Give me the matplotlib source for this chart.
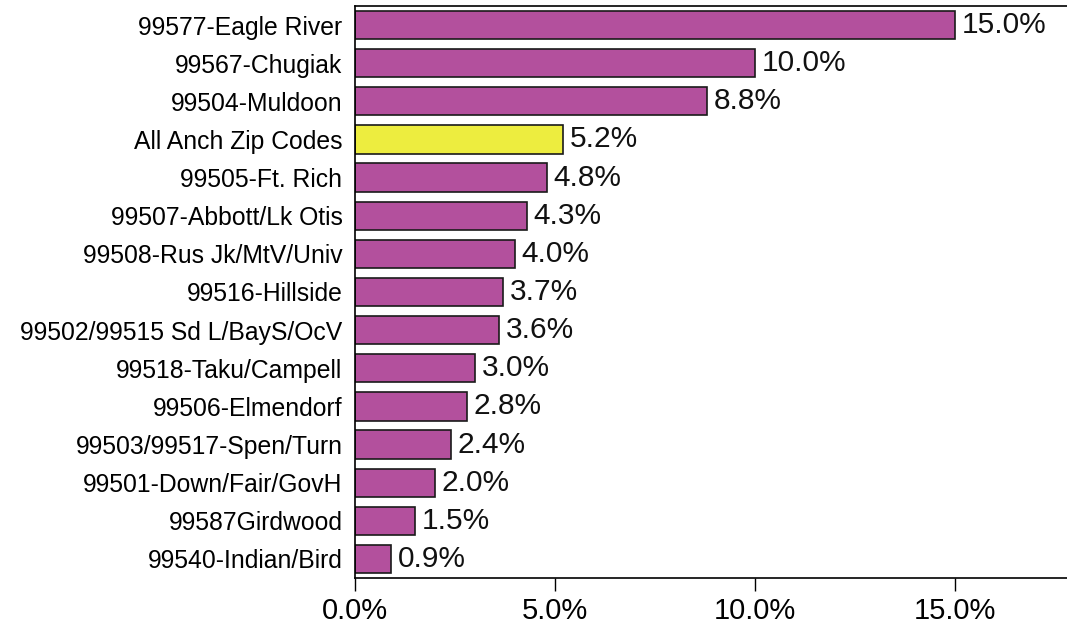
import matplotlib
matplotlib.use("Agg")
import matplotlib.pyplot as plt
from matplotlib.ticker import FuncFormatter

categories = [
    "99577-Eagle River", "99567-Chugiak", "99504-Muldoon", "All Anch Zip Codes",
    "99505-Ft. Rich", "99507-Abbott/Lk Otis", "99508-Rus Jk/MtV/Univ",
    "99516-Hillside", "99502/99515 Sd L/BayS/OcV", "99518-Taku/Campell",
    "99506-Elmendorf", "99503/99517-Spen/Turn", "99501-Down/Fair/GovH",
    "99587Girdwood", "99540-Indian/Bird",
]
values = [15.0, 10.0, 8.8, 5.2, 4.8, 4.3, 4.0, 3.7, 3.6, 3.0, 2.8, 2.4, 2.0, 1.5, 0.9]
highlight = "All Anch Zip Codes"
xticks = [0, 5, 10, 15]

plt.rcParams['font.family'] = ['Liberation Sans', 'DejaVu Sans']

W, H = 1067, 624
fig = plt.figure(figsize=(W / 100, H / 100), dpi=100)
left, right, top, bottom = 355, 1067, 6, 578
ax = fig.add_axes([left / W, 1 - bottom / H, (right - left) / W, (bottom - top) / H])

colors = ["#eded3f" if c == highlight else "#b3509d" for c in categories]
ypos = list(range(len(categories)))
ax.barh(ypos, values, height=0.74, color=colors, edgecolor="#1a1a1a", linewidth=1.2)
for y, v in zip(ypos, values):
    ax.text(v + 0.17, y, f"{v:.1f}%", va="center", ha="left", fontsize=21.5, color="#111111")

ax.set_yticks(ypos)
ax.set_yticklabels(categories, fontsize=17.8)
ax.set_ylim(len(categories) - 0.5, -0.5)
ax.set_xlim(0, (right - left) / 40)
ax.set_xticks(xticks)
ax.xaxis.set_major_formatter(FuncFormatter(lambda x, p: f"{x:.1f}%"))
ax.tick_params(axis="x", labelsize=21, length=9, width=1, pad=5)
ax.tick_params(axis="y", length=0, pad=9)
for s in ["left", "bottom", "top"]:
    ax.spines[s].set_linewidth(1.2)
ax.spines["right"].set_visible(False)

fig.savefig("out.png", dpi=100)
